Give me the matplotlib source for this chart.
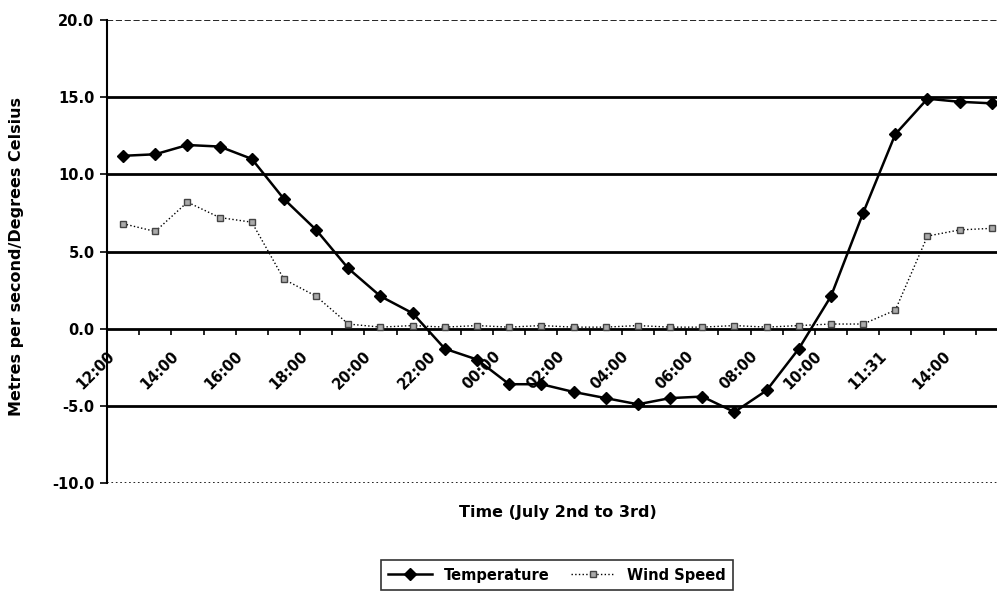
import numpy as np
import matplotlib
matplotlib.use('Agg')
import matplotlib.pyplot as plt

# Hourly readings, July 2nd 12:00 to July 3rd
tick_labels = ['12:00', '14:00', '16:00', '18:00', '20:00', '22:00', '00:00',
               '02:00', '04:00', '06:00', '08:00', '10:00', '11:31', '14:00']
temperature = [11.2, 11.3, 11.9, 11.8, 11.0, 8.4, 6.4, 3.9, 2.1, 1.0,
               -1.3, -2.0, -3.6, -3.6, -4.1, -4.5, -4.9, -4.5, -4.4, -5.4,
               -4.0, -1.3, 2.1, 7.5, 12.6, 14.9, 14.7, 14.6]
wind_speed = [6.8, 6.3, 8.2, 7.2, 6.9, 3.2, 2.1, 0.3, 0.1, 0.2,
              0.1, 0.2, 0.1, 0.2, 0.1, 0.1, 0.2, 0.1, 0.1, 0.2,
              0.1, 0.2, 0.3, 0.3, 1.2, 6.0, 6.4, 6.5]

plt.rcParams['font.family'] = 'DejaVu Sans'
plt.rcParams['font.weight'] = 'bold'

fig = plt.figure(figsize=(9.97, 5.91), dpi=100)
ax = fig.add_axes([107 / 997, 1 - 483 / 591, 890 / 997, 463 / 591])

x = np.arange(len(temperature))
ax.plot(x, temperature, color='black', lw=1.8, marker='D', ms=6,
        label='Temperature', zorder=4)
ax.plot(x, wind_speed, color='black', lw=1.0, ls=':', marker='s', ms=4.5,
        mfc='#aaaaaa', mec='#444444', label='Wind Speed', zorder=3)

ax.set_xlim(-0.5, 27.16)
ax.set_ylim(-10, 20)

# gridlines
for v in [15, 10, 5, -5]:
    ax.axhline(v, color='black', lw=2, zorder=1)
ax.axhline(20, color='black', lw=1.2, ls='--', zorder=1)
ax.axhline(-10, color='black', lw=1.2, ls=':', zorder=1)

ax.spines['top'].set_visible(False)
ax.spines['right'].set_visible(False)
ax.spines['left'].set_linewidth(1.5)
ax.spines['bottom'].set_position(('data', 0))
ax.spines['bottom'].set_linewidth(2)

ax.set_yticks(np.arange(-10, 21, 5))
ax.set_yticklabels([f'{v:.1f}' for v in np.arange(-10, 21, 5)])
ax.tick_params(axis='y', length=5, width=1.2, labelsize=10.5, pad=4)

ax.set_xticks(np.arange(0.5, 27, 1))
ax.set_xticklabels([])
ax.tick_params(axis='x', length=4, width=1.2, direction='out')

for pos, lab in zip(range(0, len(temperature), 2), tick_labels):
    ax.annotate(lab, xy=(pos, 0), xytext=(-12, -14.5), textcoords='offset points',
                rotation=45, ha='right', va='top', rotation_mode='anchor',
                fontsize=10.5, fontweight='bold')

ax.set_ylabel('Metres per second/Degrees Celsius', fontsize=11.5, fontweight='bold')
ax.yaxis.set_label_coords(-0.093, 0.49)

fig.text(558 / 997, 1 - 513 / 591, 'Time (July 2nd to 3rd)', ha='center', va='center',
         fontsize=11.5, fontweight='bold')

leg = fig.legend(loc='upper center', bbox_to_anchor=(557 / 997, 1 - 553 / 591), ncol=2,
                 frameon=True, fancybox=False, edgecolor='black', handlelength=3,
                 columnspacing=1.5, borderpad=0.5, prop={'size': 10.5, 'weight': 'bold'})
leg.get_frame().set_linewidth(1.2)

fig.savefig('out.png', dpi=100)
